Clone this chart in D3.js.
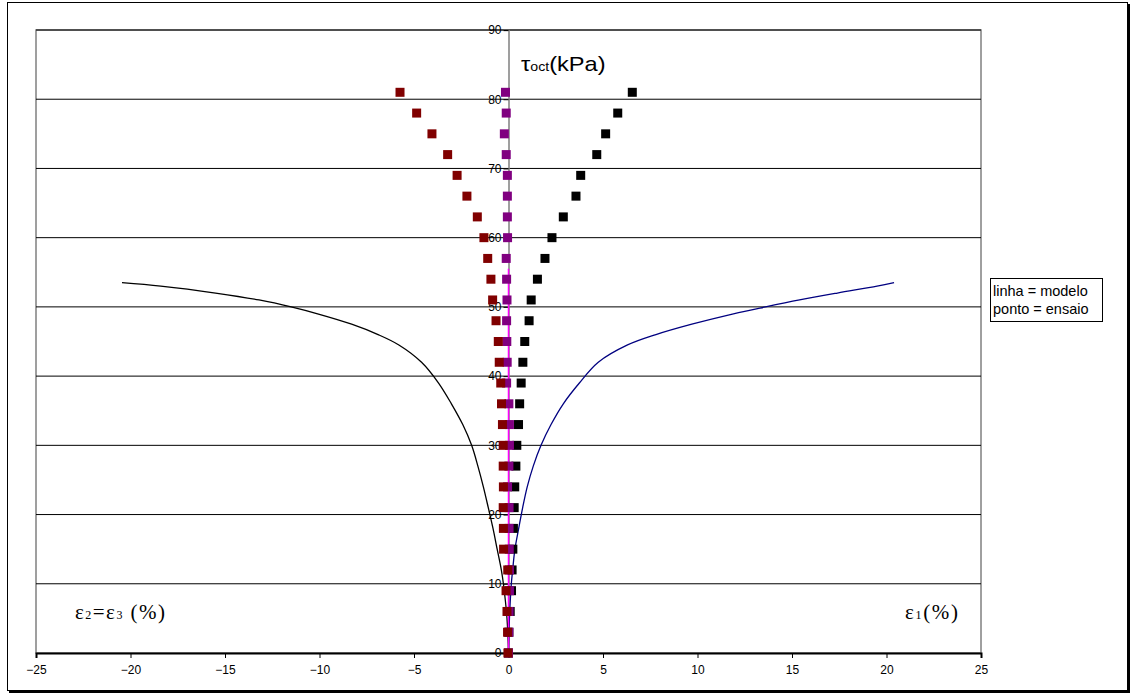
<!DOCTYPE html>
<html>
<head>
<meta charset="utf-8">
<script src="https://cdn.jsdelivr.net/npm/d3@7"></script>
<style>
  html, body { margin: 0; padding: 0; background: #fff; }
  svg { display: block; }
</style>
</head>
<body>
<svg id="chart" width="1134" height="697"></svg>
<script>
// Octahedral shear stress levels of the test points (kPa)
const tauTest = [0, 3, 6, 9, 12, 15, 18, 21, 24, 27, 30, 33, 36, 39, 42, 45, 48, 51, 54, 57, 60, 63, 66, 69, 72, 75, 78, 81];
// Measured strains (%) at each stress level
const eps1Test = [0.00, 0.02, 0.09, 0.16, 0.19, 0.23, 0.26, 0.30, 0.33, 0.39, 0.44, 0.53, 0.59, 0.67, 0.76, 0.86, 1.09, 1.20, 1.53, 1.93, 2.30, 2.90, 3.57, 3.82, 4.67, 5.14, 5.78, 6.55];
const epsVolTest = [0.00, 0.02, 0.03, 0.05, 0.05, 0.04, 0.03, 0.03, -0.05, 0.02, 0.05, 0.05, 0.02, -0.10, -0.07, -0.09, -0.10, -0.08, -0.10, -0.12, -0.05, -0.06, -0.06, -0.06, -0.12, -0.22, -0.12, -0.16];
const eps3Test = [-0.03, -0.05, -0.08, -0.13, -0.04, -0.26, -0.27, -0.28, -0.27, -0.28, -0.28, -0.32, -0.37, -0.41, -0.49, -0.54, -0.66, -0.84, -0.93, -1.10, -1.30, -1.65, -2.20, -2.72, -3.22, -4.05, -4.86, -5.74];

// Model curves: stress levels (kPa) and predicted strains (%)
const tauModel = [0, 5, 10, 12, 15, 18, 21, 24, 27, 30, 33, 36, 39, 42, 44.5, 46, 47.5, 49, 50, 51, 52, 53, 53.5];
const eps1Model = [0, 0.05, 0.15, 0.22, 0.34, 0.54, 0.75, 0.99, 1.31, 1.72, 2.25, 2.90, 3.75, 4.75, 6.30, 7.80, 9.70, 11.90, 13.60, 15.40, 17.40, 19.50, 20.40];
const eps3Model = [0, -0.08, -0.27, -0.38, -0.60, -0.82, -1.07, -1.33, -1.62, -1.95, -2.42, -3.02, -3.70, -4.60, -5.80, -6.90, -8.30, -10.10, -11.50, -13.20, -15.50, -18.40, -20.45];
const tauVolModel = [0, 55.5];
const epsVolModel = [0, 0];

// Axis ticks
const xTicks = [-25, -20, -15, -10, -5, 0, 5, 10, 15, 20, 25];
const yTicks = [0, 10, 20, 30, 40, 50, 60, 70, 80, 90];

const sans = "'Liberation Sans', Arial, sans-serif";
const serif = "'Liberation Serif', 'Times New Roman', serif";

const svg = d3.select("#chart");
const plot = { left: 36, right: 981, top: 30, bottom: 653 };

const x = d3.scaleLinear().domain([-25, 25]).range([plot.left, plot.right]);
const y = d3.scaleLinear().domain([0, 90]).range([plot.bottom, plot.top]);

// Chart frame with a slight shadow
svg.append("rect").attr("x", 9).attr("y", 4).attr("width", 1121).attr("height", 689).attr("fill", "#000");
svg.append("rect").attr("x", 7.5).attr("y", 2.5).attr("width", 1120).attr("height", 688)
  .attr("fill", "#fff").attr("stroke", "#000").attr("stroke-width", 1);

// Plot area border
svg.append("rect").attr("x", plot.left).attr("y", plot.top)
  .attr("width", plot.right - plot.left).attr("height", plot.bottom - plot.top)
  .attr("fill", "none").attr("stroke", "#808080").attr("stroke-width", 1.5);

// Horizontal gridlines
svg.append("g").selectAll("line").data(yTicks.filter(d => d > 0)).join("line")
  .attr("x1", plot.left).attr("x2", plot.right)
  .attr("y1", d => y(d)).attr("y2", d => y(d))
  .attr("stroke", "#000").attr("stroke-width", 1);

// Y axis through the origin
const yAxis = d3.axisLeft(y).tickValues(yTicks).tickSize(5).tickPadding(2).tickFormat(d3.format("d"));
const gy = svg.append("g").attr("transform", `translate(${x(0)},0)`).call(yAxis);
gy.select(".domain").attr("stroke", "#808080").attr("stroke-width", 1.5);
gy.selectAll(".tick line").attr("stroke", "#000");
gy.selectAll(".tick text").attr("font-family", sans).attr("font-size", 12).attr("fill", "#000");

// X axis along tau = 0
const xAxis = d3.axisBottom(x).tickValues(xTicks).tickSize(5).tickPadding(7).tickFormat(d3.format("d"));
const gx = svg.append("g").attr("transform", `translate(0,${y(0)})`).call(xAxis);
gx.select(".domain").attr("stroke", "#000").attr("stroke-width", 2);
gx.selectAll(".tick line").attr("stroke", "#000");
gx.selectAll(".tick text").attr("font-family", sans).attr("font-size", 12).attr("fill", "#000");

// Model curves
const line = d3.line().x(d => x(d[0])).y(d => y(d[1])).curve(d3.curveCatmullRom.alpha(0.5));
svg.append("path").datum(d3.zip(eps3Model, tauModel)).attr("d", line)
  .attr("fill", "none").attr("stroke", "#000").attr("stroke-width", 1.3);
svg.append("path").datum(d3.zip(eps1Model, tauModel)).attr("d", line)
  .attr("fill", "none").attr("stroke", "#000080").attr("stroke-width", 1.3);
svg.append("path").datum(d3.zip(epsVolModel, tauVolModel)).attr("d", line)
  .attr("fill", "none").attr("stroke", "#ff00ff").attr("stroke-width", 1.5);

// Test points
const ms = 9;
function points(values, color) {
  svg.append("g").selectAll("rect").data(d3.zip(values, tauTest)).join("rect")
    .attr("x", d => x(d[0]) - ms / 2).attr("y", d => y(d[1]) - ms / 2)
    .attr("width", ms).attr("height", ms).attr("fill", color);
}
points(eps1Test, "#000");
points(epsVolTest, "#800080");
points(eps3Test, "#800000");

// Axis titles
const tau = svg.append("text").attr("transform", "translate(521,71) scale(1.18,1)")
  .attr("font-family", sans).attr("font-size", 20).attr("fill", "#000");
tau.append("tspan").text("τ");
tau.append("tspan").attr("font-size", 12).text("oct");
tau.append("tspan").text("(kPa)");

const e3 = svg.append("text").attr("x", 75).attr("y", 619)
  .attr("font-family", serif).attr("font-size", 21).attr("fill", "#000")
  .attr("textLength", 90).attr("lengthAdjust", "spacing");
e3.append("tspan").text("ε");
e3.append("tspan").attr("font-size", 12).text("2");
e3.append("tspan").text("=ε");
e3.append("tspan").attr("font-size", 12).text("3");
e3.append("tspan").text(" (%)");

const e1 = svg.append("text").attr("x", 905).attr("y", 619)
  .attr("font-family", serif).attr("font-size", 21).attr("fill", "#000")
  .attr("textLength", 53).attr("lengthAdjust", "spacing");
e1.append("tspan").text("ε");
e1.append("tspan").attr("font-size", 12).text("1");
e1.append("tspan").text("(%)");

// Legend note
svg.append("rect").attr("x", 990.5).attr("y", 278.5).attr("width", 112).attr("height", 43)
  .attr("fill", "#fff").attr("stroke", "#000").attr("stroke-width", 1);
const note = svg.append("g").attr("font-family", sans).attr("font-size", 14.5).attr("fill", "#000");
note.append("text").attr("x", 993).attr("y", 296).text("linha = modelo");
note.append("text").attr("x", 993).attr("y", 314).text("ponto = ensaio");
</script>
</body>
</html>
